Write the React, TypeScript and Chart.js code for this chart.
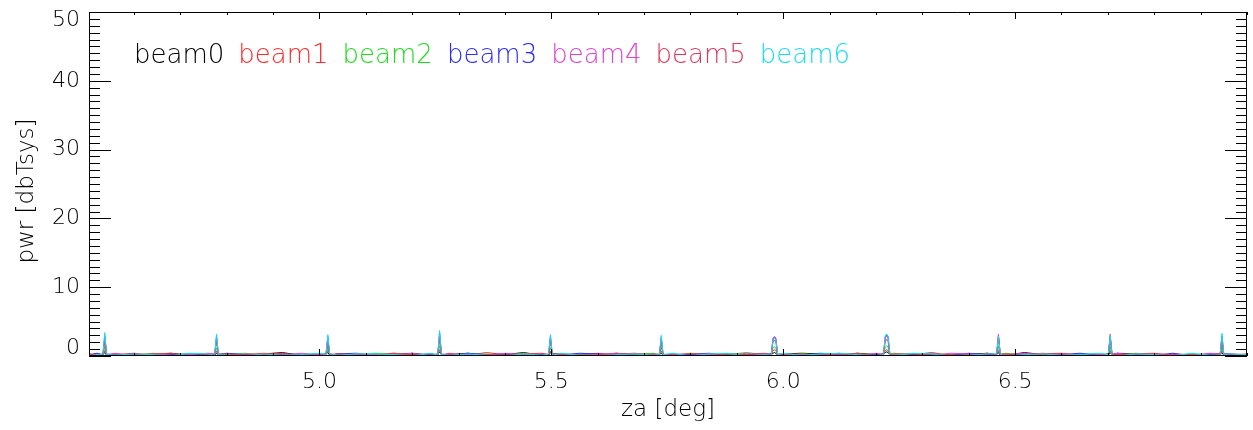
import React, { useEffect, useRef } from "react";
import { Chart, registerables } from "chart.js";

Chart.register(...registerables);

// ---------- data ----------
const beamNames = ["beam0", "beam1", "beam2", "beam3", "beam4", "beam5", "beam6"];
const beamColors = ["#000000", "#ff2a2a", "#1fdc1f", "#2a2aff", "#de44cf", "#dc3a5a", "#16dcf0"];

// baseline sampling of za [deg]
const zaBase = [
  4.503, 4.52, 4.56, 4.6, 4.64, 4.68, 4.72, 4.76, 4.8, 4.84,
  4.88, 4.92, 4.96, 5.0, 5.04, 5.08, 5.12, 5.16, 5.2, 5.24,
  5.28, 5.32, 5.36, 5.4, 5.44, 5.48, 5.52, 5.56, 5.6, 5.64,
  5.68, 5.72, 5.76, 5.8, 5.84, 5.88, 5.92, 5.96, 6.0, 6.04,
  6.08, 6.12, 6.16, 6.2, 6.24, 6.28, 6.32, 6.36, 6.4, 6.44,
  6.48, 6.52, 6.56, 6.6, 6.64, 6.68, 6.72, 6.76, 6.8, 6.84,
  6.88, 6.92, 6.96, 7.0,
];

const beam0Base = [
  0.2, 0.1, 0.3, 0.0, 0.2, 0.4, 0.1, 0.3, 0.2, 0.0,
  0.3, 0.5, 0.1, 0.2, 0.3, 0.1, 0.3, 0.2, 0.4, 0.1,
  0.2, 0.4, 0.0, 0.2, 0.5, 0.1, 0.3, 0.2, 0.1, 0.4,
  0.2, 0.3, 0.1, 0.2, 0.0, 0.3, 0.2, 0.1, 0.3, 0.4,
  0.3, 0.1, 0.4, 0.2, 0.1, 0.3, 0.2, 0.0, 0.2, 0.4,
  0.1, 0.5, 0.2, 0.3, 0.1, 0.2, 0.4, 0.3, 0.1, 0.2,
  0.0, 0.3, 0.2, 0.1,
];
const beam1Base = [
  0.1, 0.3, 0.2, 0.4, 0.1, 0.2, 0.0, 0.3, 0.1, 0.2,
  0.4, 0.2, 0.1, 0.3, 0.2, 0.0, 0.2, 0.4, 0.1, 0.3,
  0.2, 0.1, 0.5, 0.2, 0.1, 0.3, 0.0, 0.2, 0.4, 0.1,
  0.3, 0.2, 0.1, 0.4, 0.2, 0.3, 0.1, 0.0, 0.2, 0.3,
  0.1, 0.4, 0.2, 0.1, 0.3, 0.2, 0.5, 0.1, 0.2, 0.0,
  0.3, 0.2, 0.4, 0.1, 0.2, 0.3, 0.1, 0.2, 0.0, 0.3,
  0.2, 0.1, 0.3, 0.2,
];
const beam2Base = [
  0.3, 0.0, 0.2, 0.1, 0.4, 0.2, 0.3, 0.1, 0.2, 0.4,
  0.1, 0.2, 0.3, 0.0, 0.2, 0.1, 0.4, 0.2, 0.3, 0.1,
  0.0, 0.2, 0.3, 0.1, 0.4, 0.2, 0.1, 0.3, 0.2, 0.1,
  0.2, 0.4, 0.0, 0.3, 0.1, 0.2, 0.5, 0.2, 0.1, 0.3,
  0.2, 0.0, 0.3, 0.2, 0.4, 0.1, 0.2, 0.3, 0.1, 0.2,
  0.4, 0.1, 0.2, 0.0, 0.3, 0.2, 0.1, 0.4, 0.2, 0.1,
  0.3, 0.2, 0.0, 0.2,
];
const beam3Base = [
  0.2, 0.4, 0.1, 0.3, 0.0, 0.2, 0.3, 0.1, 0.4, 0.2,
  0.0, 0.3, 0.2, 0.1, 0.3, 0.4, 0.1, 0.0, 0.2, 0.3,
  0.1, 0.4, 0.2, 0.3, 0.0, 0.2, 0.1, 0.4, 0.3, 0.2,
  0.1, 0.0, 0.3, 0.2, 0.4, 0.1, 0.2, 0.3, 0.0, 0.1,
  0.4, 0.2, 0.1, 0.3, 0.0, 0.2, 0.3, 0.1, 0.4, 0.2,
  0.1, 0.3, 0.0, 0.2, 0.4, 0.1, 0.3, 0.2, 0.1, 0.4,
  0.0, 0.2, 0.3, 0.1,
];
const beam4Base = [
  0.1, 0.2, 0.4, 0.0, 0.3, 0.1, 0.2, 0.4, 0.0, 0.3,
  0.2, 0.1, 0.4, 0.2, 0.0, 0.3, 0.2, 0.1, 0.4, 0.0,
  0.3, 0.2, 0.1, 0.4, 0.2, 0.0, 0.3, 0.1, 0.2, 0.4,
  0.0, 0.3, 0.2, 0.1, 0.3, 0.0, 0.4, 0.1, 0.3, 0.2,
  0.1, 0.3, 0.0, 0.4, 0.2, 0.1, 0.0, 0.4, 0.3, 0.1,
  0.2, 0.4, 0.1, 0.3, 0.0, 0.2, 0.4, 0.1, 0.3, 0.2,
  0.1, 0.4, 0.2, 0.0,
];
const beam5Base = [
  0.3, 0.1, 0.0, 0.2, 0.3, 0.4, 0.0, 0.2, 0.3, 0.1,
  0.2, 0.4, 0.0, 0.1, 0.3, 0.2, 0.0, 0.4, 0.2, 0.1,
  0.4, 0.0, 0.2, 0.1, 0.3, 0.4, 0.2, 0.0, 0.1, 0.3,
  0.4, 0.1, 0.2, 0.0, 0.1, 0.3, 0.2, 0.4, 0.1, 0.0,
  0.2, 0.1, 0.4, 0.0, 0.3, 0.3, 0.1, 0.2, 0.0, 0.4,
  0.3, 0.0, 0.3, 0.4, 0.1, 0.0, 0.2, 0.3, 0.4, 0.1,
  0.2, 0.0, 0.1, 0.3,
];
const beam6Base = [
  0.0, 0.2, 0.1, 0.3, 0.2, 0.0, 0.4, 0.3, 0.1, 0.0,
  0.3, 0.1, 0.2, 0.4, 0.1, 0.3, 0.3, 0.2, 0.0, 0.4,
  0.1, 0.3, 0.1, 0.0, 0.3, 0.1, 0.4, 0.1, 0.0, 0.2,
  0.3, 0.1, 0.4, 0.0, 0.3, 0.4, 0.0, 0.2, 0.4, 0.1,
  0.3, 0.4, 0.2, 0.0, 0.1, 0.4, 0.3, 0.0, 0.1, 0.3,
  0.0, 0.2, 0.3, 0.1, 0.2, 0.4, 0.0, 0.3, 0.2, 0.0,
  0.4, 0.1, 0.3, 0.2,
];

// za samples across the periodic spikes
const zaSpike = [
  4.533, 4.537, 4.541,
  4.774, 4.778, 4.782,
  5.014, 5.018, 5.022,
  5.255, 5.259, 5.263,
  5.494, 5.498, 5.502,
  5.733, 5.737, 5.741,
  5.974, 5.978, 5.981, 5.984, 5.988,
  6.216, 6.22, 6.223, 6.226, 6.23,
  6.46, 6.464, 6.468,
  6.701, 6.705, 6.709,
  6.942, 6.946, 6.95,
];

const beam0Spike = [
  0.2, 0.5, 0.1, 0.1, 0.4, 0.2, 0.3, 0.5, 0.1, 0.2, 0.6, 0.2, 0.1, 0.5, 0.3, 0.2, 0.4, 0.1,
  0.2, 0.4, 0.5, 0.4, 0.1, 0.3, 0.5, 0.6, 0.5, 0.2,
  0.2, 0.5, 0.1, 0.1, 0.5, 0.2, 0.3, 0.5, 0.1,
];
const beam1Spike = [
  0.1, 0.8, 0.2, 0.3, 0.7, 0.1, 0.2, 0.8, 0.3, 0.1, 0.9, 0.2, 0.2, 0.7, 0.1, 0.3, 0.7, 0.2,
  0.1, 0.8, 0.9, 0.8, 0.2, 0.2, 0.8, 0.9, 0.8, 0.1,
  0.3, 0.8, 0.2, 0.2, 0.8, 0.3, 0.1, 0.8, 0.2,
];
const beam2Spike = [
  0.3, 1.3, 0.1, 0.2, 1.2, 0.3, 0.1, 1.3, 0.2, 0.3, 1.5, 0.1, 0.2, 1.2, 0.2, 0.1, 1.2, 0.3,
  0.3, 1.2, 1.4, 1.2, 0.1, 0.2, 1.3, 1.5, 1.3, 0.3,
  0.1, 1.4, 0.2, 0.3, 1.3, 0.1, 0.2, 1.4, 0.3,
];
const beam3Spike = [
  0.2, 3.0, 0.3, 0.1, 2.9, 0.2, 0.3, 2.8, 0.1, 0.2, 3.4, 0.3, 0.1, 2.9, 0.2, 0.2, 2.7, 0.1,
  0.3, 2.5, 2.8, 2.5, 0.2, 0.1, 2.8, 3.1, 2.8, 0.3,
  0.2, 2.8, 0.1, 0.3, 2.7, 0.2, 0.1, 2.9, 0.3,
];
const beam4Spike = [
  0.1, 2.6, 0.2, 0.3, 2.6, 0.1, 0.2, 2.5, 0.3, 0.1, 3.0, 0.2, 0.3, 2.6, 0.1, 0.1, 2.5, 0.2,
  0.2, 2.5, 2.8, 2.6, 0.3, 0.2, 2.6, 2.9, 2.6, 0.1,
  0.1, 3.2, 0.2, 0.2, 3.2, 0.3, 0.3, 2.7, 0.1,
];
const beam5Spike = [
  0.3, 2.2, 0.1, 0.2, 2.2, 0.3, 0.1, 2.1, 0.2, 0.3, 2.6, 0.1, 0.2, 2.2, 0.3, 0.2, 2.1, 0.1,
  0.1, 2.0, 2.3, 2.0, 0.2, 0.3, 2.1, 2.4, 2.1, 0.2,
  0.2, 2.9, 0.3, 0.1, 2.8, 0.2, 0.2, 2.3, 0.1,
];
const beam6Spike = [
  0.2, 3.4, 0.2, 0.1, 3.2, 0.2, 0.2, 3.1, 0.3, 0.1, 3.7, 0.2, 0.3, 3.1, 0.1, 0.2, 3.0, 0.2,
  0.1, 2.3, 2.6, 2.3, 0.2, 0.2, 2.9, 3.2, 2.9, 0.1,
  0.3, 2.9, 0.2, 0.2, 3.0, 0.1, 0.1, 3.3, 0.2,
];

const beamBase = [beam0Base, beam1Base, beam2Base, beam3Base, beam4Base, beam5Base, beam6Base];
const beamSpike = [beam0Spike, beam1Spike, beam2Spike, beam3Spike, beam4Spike, beam5Spike, beam6Spike];

// axes
const xMin = 4.503;
const xMax = 7.0;
const yMin = 0;
const yMax = 50;
const xMajorTicks = [5.0, 5.5, 6.0, 6.5];
const xTickLabels = ["5.0", "5.5", "6.0", "6.5"];
const yMajorTicks = [0, 10, 20, 30, 40, 50];
const yTickLabels = ["0", "10", "20", "30", "40", "50"];
const xMinorStep = 0.1;
const yMinorStep = 1;
const xTitle = "za [deg]";
const yTitle = "pwr [dbTsys]";

const FONT = '"DejaVu Sans"';

function buildPoints(i: number) {
  const pts: { x: number; y: number }[] = [];
  zaBase.forEach((x, k) => pts.push({ x, y: beamBase[i][k] }));
  zaSpike.forEach((x, k) => pts.push({ x, y: beamSpike[i][k] }));
  pts.sort((a, b) => a.x - b.x);
  return pts;
}

const framePlugin = {
  id: "idlFrame",
  afterDraw(chart: any) {
    const { ctx, chartArea } = chart;
    const xs = chart.scales.x;
    const ys = chart.scales.y;
    const { left, right, top, bottom } = chartArea;
    const w = right - left;
    const h = bottom - top;
    ctx.save();
    ctx.strokeStyle = "#000";
    ctx.lineWidth = 1;
    ctx.beginPath();
    ctx.rect(left + 0.5, top + 0.5, w - 1, h - 1);
    ctx.stroke();

    const yMajLen = 22, yMinLen = 11, xMajLen = 7, xMinLen = 3;
    ctx.beginPath();
    for (let v = yMin; v <= yMax + 1e-9; v += yMinorStep) {
      const py = Math.round(ys.getPixelForValue(v)) + 0.5;
      const major = yMajorTicks.some((t) => Math.abs(t - v) < 1e-6);
      const len = major ? yMajLen : yMinLen;
      ctx.moveTo(left, py);
      ctx.lineTo(left + len, py);
      ctx.moveTo(right, py);
      ctx.lineTo(right - len, py);
    }
    const start = Math.ceil(xMin / xMinorStep - 1e-9);
    const end = Math.floor(xMax / xMinorStep + 1e-9);
    for (let k = start; k <= end; k++) {
      const v = k * xMinorStep;
      const px = Math.round(xs.getPixelForValue(v)) + 0.5;
      const major = xMajorTicks.some((t) => Math.abs(t - v) < 1e-6);
      const len = major ? xMajLen : xMinLen;
      ctx.moveTo(px, bottom);
      ctx.lineTo(px, bottom - len);
      ctx.moveTo(px, top);
      ctx.lineTo(px, top + len);
    }
    ctx.stroke();

    // tick labels
    ctx.fillStyle = "#000";
    ctx.font = `200 22px ${FONT}`;
    ctx.textAlign = "right";
    ctx.textBaseline = "middle";
    yMajorTicks.forEach((v, k) => {
      let py = ys.getPixelForValue(v);
      py = Math.min(Math.max(py, top + 8), bottom - 8);
      ctx.fillText(yTickLabels[k], 80, py);
    });
    ctx.textAlign = "center";
    xMajorTicks.forEach((v, k) => {
      const px = xs.getPixelForValue(v);
      ctx.fillText(xTickLabels[k], px, 382);
    });

    // titles
    ctx.font = `200 23px ${FONT}`;
    ctx.fillText(xTitle, (left + right) / 2, 410);
    ctx.save();
    ctx.translate(27, 191);
    ctx.rotate(-Math.PI / 2);
    ctx.fillText(yTitle, 0, 0);
    ctx.restore();

    // legend
    ctx.font = `200 26px ${FONT}`;
    ctx.textAlign = "left";
    ctx.textBaseline = "alphabetic";
    let lx = 134;
    beamNames.forEach((name, k) => {
      ctx.fillStyle = beamColors[k];
      ctx.fillText(name, lx, 63);
      lx += ctx.measureText(name).width + 14;
    });
    ctx.restore();
  },
};

export default function App() {
  const canvasRef = useRef<HTMLCanvasElement | null>(null);

  useEffect(() => {
    document.body.style.margin = "0";
    const canvas = canvasRef.current;
    if (!canvas) return;
    const datasets = beamNames.map((name, i) => ({
      label: name,
      data: buildPoints(i),
      borderColor: beamColors[i],
      backgroundColor: beamColors[i],
      borderWidth: 1,
      pointRadius: 0,
      tension: 0,
      fill: false,
      order: beamNames.length - 1 - i,
    }));
    const chart = new Chart(canvas, {
      type: "line",
      data: { datasets },
      options: {
        animation: false,
        responsive: false,
        maintainAspectRatio: false,
        devicePixelRatio: 1,
        layout: { padding: { left: 89, right: 6, top: 12, bottom: 74 } },
        plugins: { legend: { display: false }, tooltip: { enabled: false }, title: { display: false } },
        scales: {
          x: { type: "linear", min: xMin, max: xMax, display: false },
          y: { type: "linear", min: yMin, max: yMax, display: false },
        },
      },
      plugins: [framePlugin],
    });
    return () => chart.destroy();
  }, []);

  return (
    <div style={{ width: 1253, height: 430, background: "#fff" }}>
      <canvas ref={canvasRef} width={1253} height={430} style={{ display: "block" }} />
    </div>
  );
}
